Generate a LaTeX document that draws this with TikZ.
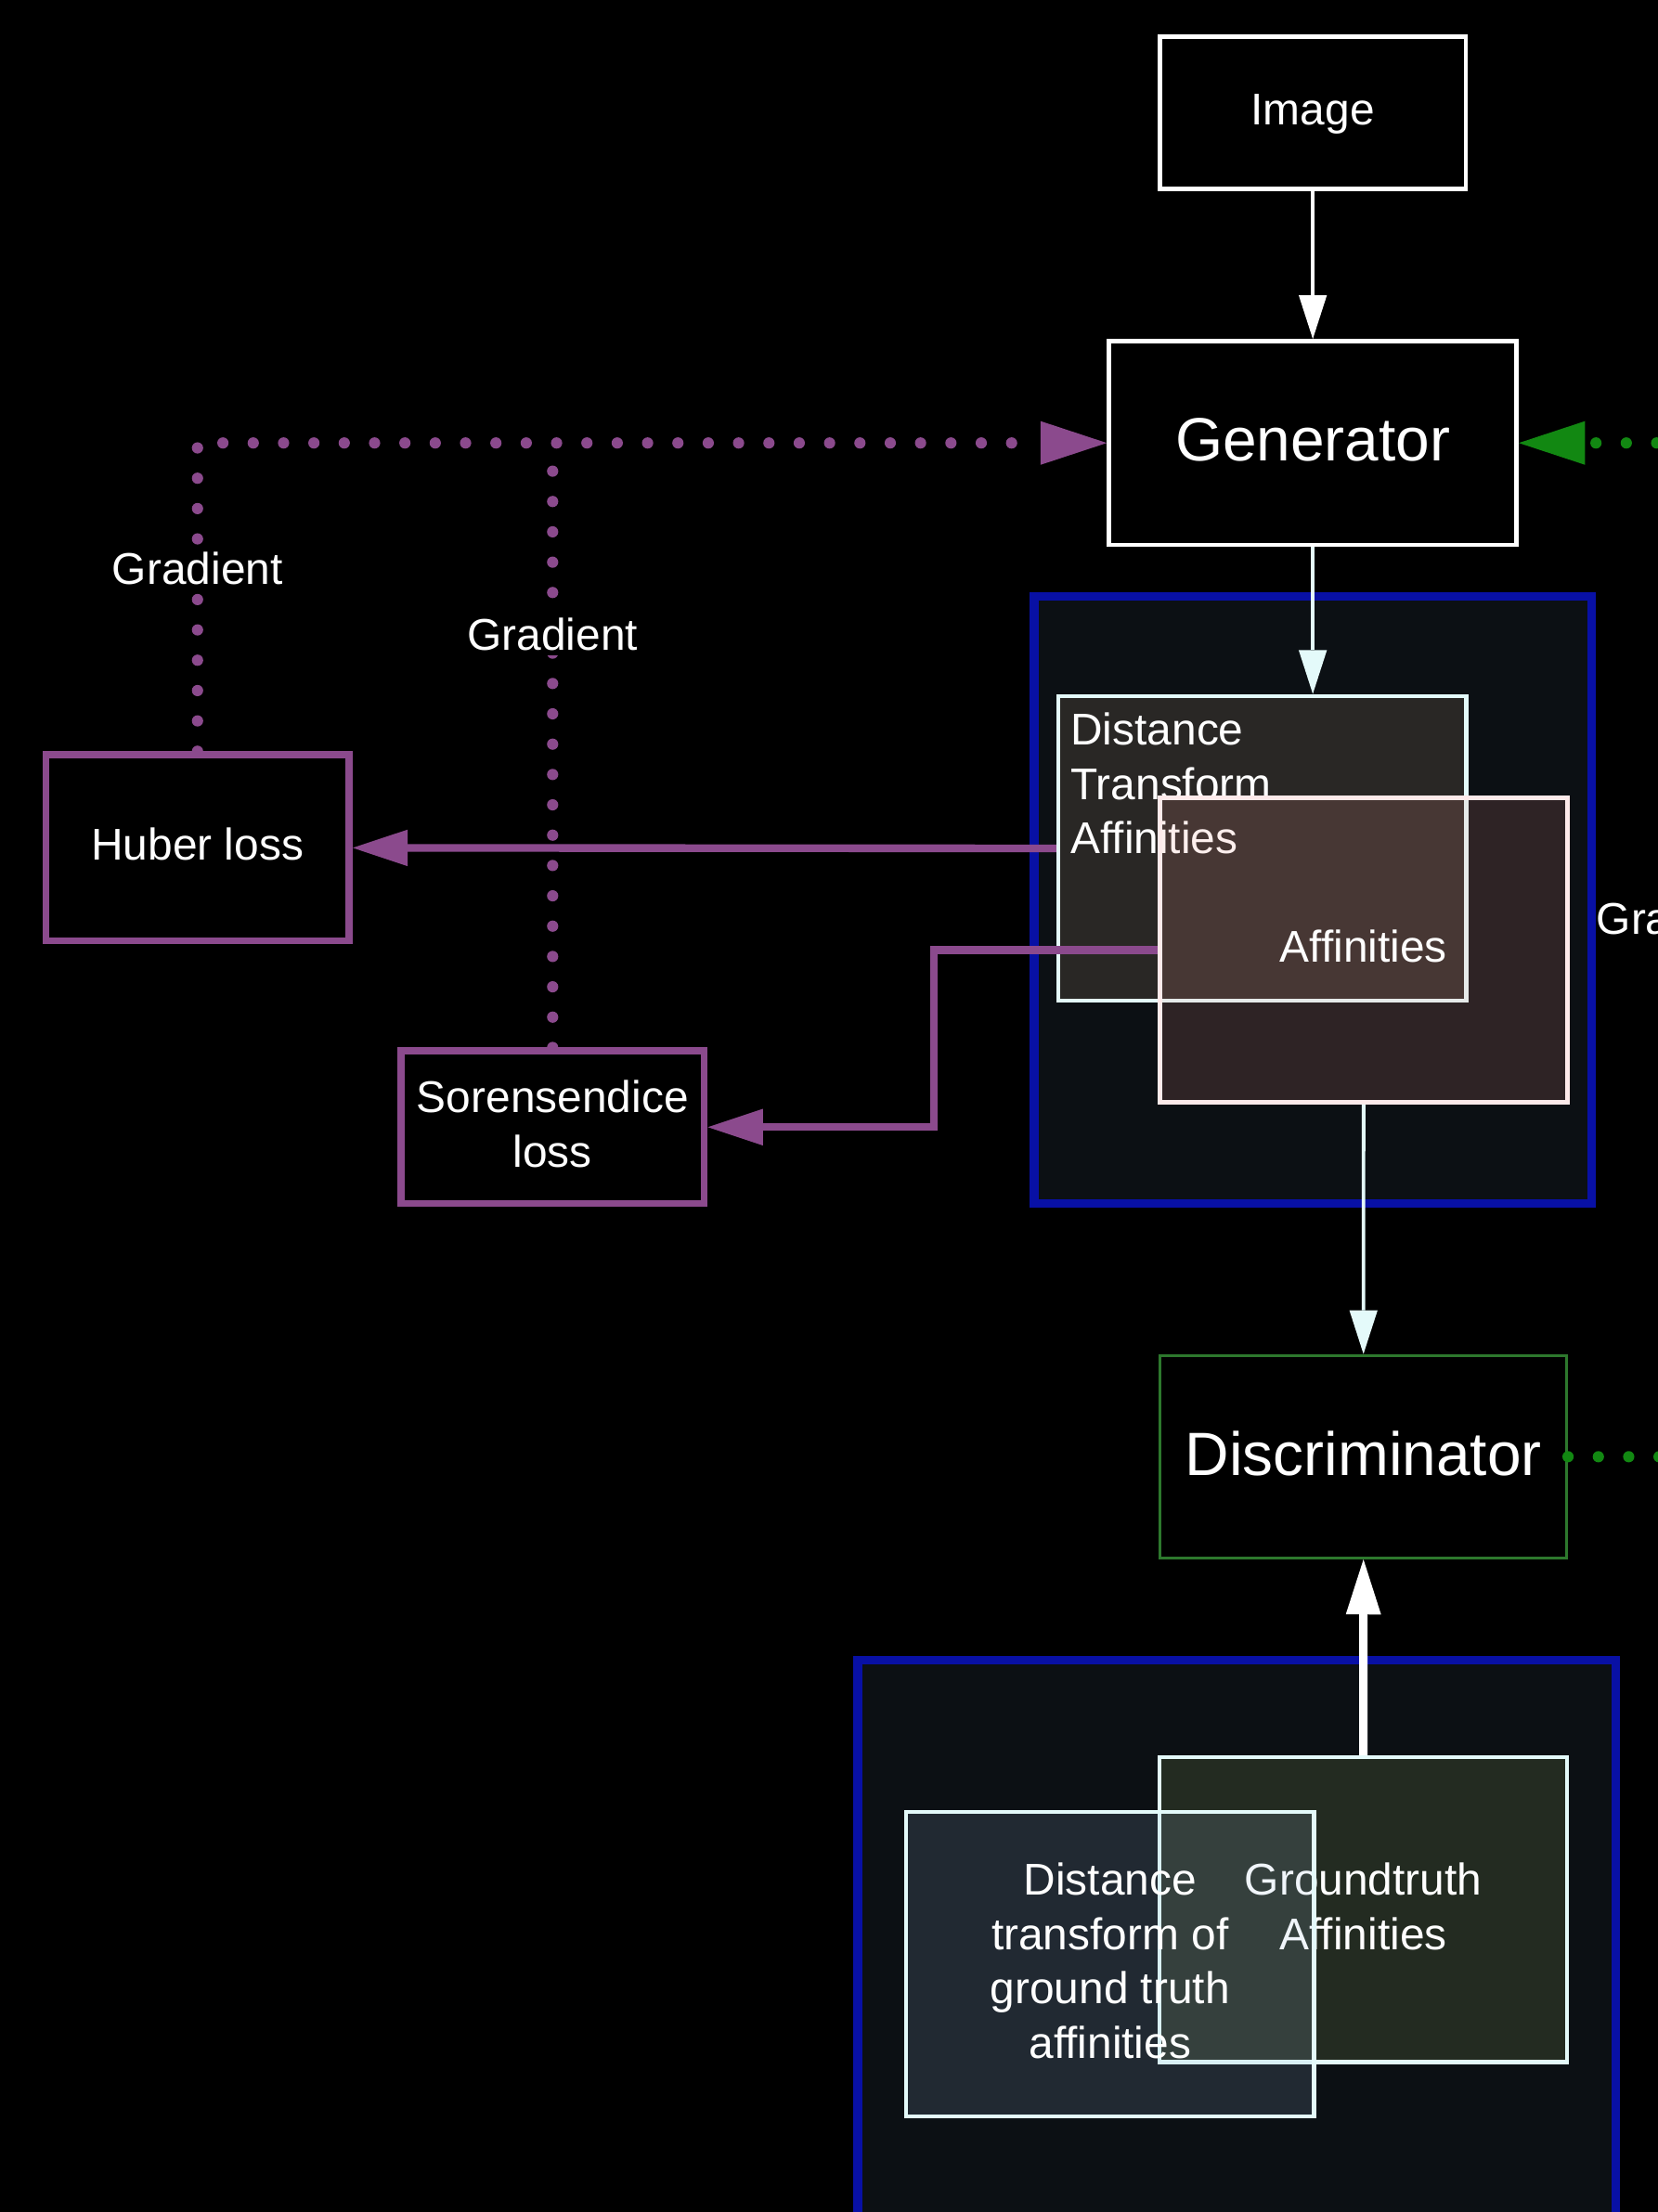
\documentclass[tikz,border=0pt]{standalone}
\usepackage{fontspec}
\setmainfont{Liberation Sans}
\usetikzlibrary{arrows.meta}

\begin{document}
\begin{tikzpicture}[
    x=1pt, y=-1pt,
    every node/.style={font=\fontsize{31.5}{38.7}\selectfont, text=white, text opacity=1},
    big text/.style={font=\fontsize{43.3}{52}\selectfont},
    flow box/.style={draw=white, line width=3pt, fill=black, text depth=0.5em, align=center},
    loss box/.style={draw=losspurple, line width=5pt, fill=black, text depth=0.5em, align=center, minimum width=215pt},
    group box/.style={draw=groupblue, line width=6pt, fill=groupfill},
    map box/.style={line width=3pt, fill opacity=0.15, text depth=0.5em, align=center, minimum width=289pt, minimum height=216pt},
    grad label/.style={fill=black, inner sep=3pt},
    flow arrow/.style={line width=2.5pt, -{Triangle[length=31pt, width=20pt, line width=0pt]}},
    loss arrow/.style={draw=losspurple, line width=5.5pt, -{Triangle[length=39pt, width=26pt, line width=0pt]}},
    purple dots/.style={draw=losspurple, line width=8pt, line cap=round, dash pattern=on 0pt off 21.5pt},
    green dots/.style={draw=gradgreen, line width=8pt, line cap=round, dash pattern=on 0pt off 21.5pt},
    big tip/.style={-{Triangle[length=47pt, width=31pt, line width=0pt]}}
]
\definecolor{losspurple}{RGB}{139,74,141}  % Loss boxes and gradients
\definecolor{gradgreen}{RGB}{18,136,18}    % Discriminator gradient
\definecolor{discgreen}{RGB}{45,120,45}    % Discriminator border
\definecolor{groupblue}{RGB}{8,16,165}     % Group frames
\definecolor{groupfill}{RGB}{12,16,20}     % Group background
\definecolor{mapcyan}{RGB}{228,250,250}    % Map borders
\definecolor{mappink}{RGB}{253,234,234}    % Affinities border
\definecolor{dttint}{RGB}{212,176,140}
\definecolor{afftint}{RGB}{245,149,140}
\definecolor{gttint}{RGB}{172,203,113}
\definecolor{dtgttint}{RGB}{159,189,227}

% Page and background
\useasboundingbox (0,0) rectangle (1175,1568);
\clip (0,0) rectangle (1175,1568);
\fill[black] (0,0) rectangle (1175,1568);

% Group frames
\node[group box, minimum width=395pt, minimum height=430.5pt] (grpgen) at (930.5,637.75) {};
\node[group box, minimum width=537pt, minimum height=443pt] (grpgt) at (876.5,1398.5) {};

% Main blocks
\node[flow box, minimum width=217pt, minimum height=108pt] (image) at (930.5,80) {Image};
\node[flow box, big text, minimum width=289pt, minimum height=144.5pt] (gen) at (930.5,314) {Generator};
\node[flow box, big text, draw=discgreen, line width=2pt, minimum width=288pt, minimum height=143.6pt] (disc) at (966.4,1032.6) {Discriminator};

% Losses
\node[loss box, minimum height=132pt] (huber) at (140,601) {Huber loss};
\node[loss box, minimum height=108pt] (soren) at (391.7,799) {Sorensendice\\loss};

% Generated maps
\node[map box, draw=mapcyan, fill=dttint,
      label={[anchor=north west, align=left, inner xsep=10pt, inner ysep=13pt]north west:{Distance\\Transform\\Affinities}}]
      (dtaff) at (894.7,601.4) {};
\node[map box, draw=mappink, fill=afftint] (aff) at (966.5,673.4) {Affinities};

% Ground truth maps
\node[map box, draw=mapcyan, fill=gttint] (gt) at (966.3,1353.7) {Groundtruth\\Affinities};
\node[map box, draw=mapcyan, fill=dtgttint] (dtgt) at (786.8,1392.3) {Distance\\transform of\\ground truth\\affinities};

% Forward flow
\draw[flow arrow, white] (image.south) -- (gen.north);
\draw[flow arrow, mapcyan] (gen.south) -- (gen.south |- dtaff.north);
\draw[flow arrow, mapcyan] (aff.south) -- (disc.north);
\draw[white, line width=6pt, -{Triangle[length=39pt, width=25pt, line width=0pt]}] (gt.north) -- (disc.south);

% Losses
\coordinate (sorbend) at (662,799);
\draw[loss arrow] (dtaff.west) -- (huber.east);
\draw[loss arrow] (aff.west) -| (sorbend) -- (soren.east);

% Gradients back to the generator
\draw[purple dots, big tip, losspurple] (huber.north) -- node[grad label, pos=0.593] (gradh) {Gradient} (huber.north |- gen.west) -- (gen.west);
\draw[purple dots] (soren.north) -- node[grad label, pos=0.683] (grads) {Gradient} (soren.north |- gen.west);
\coordinate (gradbend) at (1192,651);
\draw[green dots, big tip, gradgreen] (disc.east) -| (gradbend) |- (gen.east);
\node[grad label, inner xsep=0pt] (gradg) at (gradbend) {Gradient};

\end{tikzpicture}
\end{document}
